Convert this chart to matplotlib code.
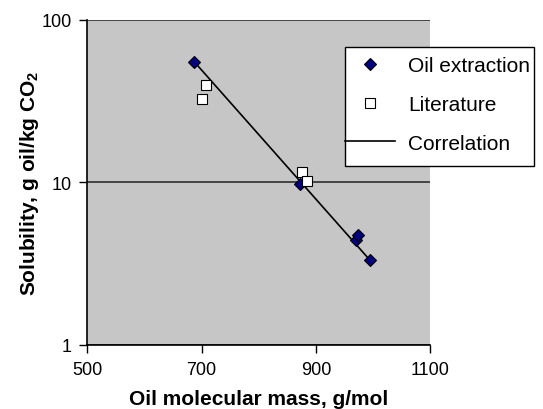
import numpy as np
import matplotlib as mpl
mpl.use('Agg')
import matplotlib.pyplot as plt
from matplotlib.patches import Rectangle

plt.rcParams['font.family'] = ['Liberation Sans', 'DejaVu Sans']
plt.rcParams['mathtext.fontset'] = 'custom'
plt.rcParams['mathtext.rm'] = 'Liberation Sans'
plt.rcParams['mathtext.bf'] = 'Liberation Sans:bold'

# oil extraction measurements
extr_mass = [687, 872, 970, 974, 995]
extr_sol = [55.0, 9.7, 4.4, 4.7, 3.3]

# literature values
lit_mass = [701, 707, 875, 884]
lit_sol = [32.5, 39.5, 11.5, 10.1]

# correlation line end points
corr_mass = [687, 995]
corr_sol = [55.0, 3.3]

xticks = [500, 700, 900, 1100]
yticks = [1, 10, 100]

fig = plt.figure(figsize=(5.43, 4.10), dpi=100)
ax = fig.add_axes([0.161, 0.157, 0.631, 0.793])
ax.set_facecolor('#c6c6c6')

ax.set_yscale('log')
ax.set_xlim(500, 1100)
ax.set_ylim(1, 100)
ax.set_xticks(xticks)
ax.set_xticklabels([str(t) for t in xticks])
ax.set_yticks(yticks)
ax.set_yticklabels([str(t) for t in yticks])
ax.yaxis.set_minor_locator(mpl.ticker.NullLocator())

for yv in yticks:
    ax.axhline(yv, color='#3a3a3a', lw=1.3, zorder=1)

ax.plot(corr_mass, corr_sol, color='black', lw=1.2, zorder=2, label='Correlation')
ax.plot(extr_mass, extr_sol, ls='none', marker='D', ms=6.5, mfc='#000080',
        mec='black', mew=0.8, zorder=3, label='Oil extraction')
ax.plot(lit_mass, lit_sol, ls='none', marker='s', ms=7.5, mfc='white',
        mec='black', mew=0.8, zorder=4, label='Literature')

for side in ['top', 'right']:
    ax.spines[side].set_visible(False)
ax.spines['left'].set_linewidth(1.2)
ax.spines['bottom'].set_linewidth(1.2)
ax.tick_params(direction='out', length=6, width=1.0, labelsize=13, pad=5.5)

ax.set_xlabel('Oil molecular mass, g/mol', fontsize=15, fontweight='bold', labelpad=8.5)
ax.set_ylabel(r'Solubility, g oil/kg CO$_\mathbf{2}$', fontsize=15, fontweight='bold', labelpad=0.5)

# legend box drawn by hand so the correlation line can touch its left edge
box = Rectangle((345 / 543, 1 - 167 / 410), 189 / 543, 119 / 410,
                transform=fig.transFigure, facecolor='white', edgecolor='black',
                lw=1.0, zorder=5)
fig.patches.append(box)

h, l = ax.get_legend_handles_labels()
order = [1, 2, 0]
leg = fig.legend([h[i] for i in order], [l[i] for i in order],
                 loc='upper left', bbox_to_anchor=(345 / 543, 1 - 57 / 410),
                 fontsize=15, frameon=False, handlelength=2.4, handletextpad=0.62,
                 borderpad=0, labelspacing=0.95, borderaxespad=0)
leg.set_zorder(6)

fig.savefig('out.png', dpi=100)
